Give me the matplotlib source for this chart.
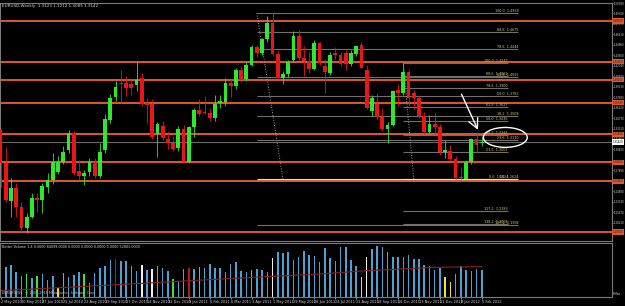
import matplotlib.pyplot as plt
from matplotlib.patches import Ellipse

# EURUSD weekly candles, week of 2 May 2010 .. week of 5 Feb 2012
opens = [1.3304, 1.2846, 1.2319, 1.2500, 1.2243, 1.1940, 1.2098, 1.2361, 1.2333, 1.2514,
         1.2610, 1.2721, 1.2860, 1.3027, 1.3262, 1.2735, 1.2666, 1.2721, 1.2860, 1.2666,
         1.3027, 1.3456, 1.3775, 1.3969, 1.3969, 1.3955, 1.3941, 1.4038, 1.3692, 1.3678,
         1.3248, 1.3359, 1.3179, 1.3123, 1.3054, 1.3331, 1.2860, 1.3345, 1.3595, 1.3560,
         1.3553, 1.3484, 1.3692, 1.3706, 1.3969, 1.3927, 1.4149, 1.4024, 1.4218, 1.4468,
         1.4385, 1.4579, 1.4800, 1.4371, 1.4038, 1.4093, 1.4288, 1.4620, 1.4315, 1.4274,
         1.4163, 1.4523, 1.4204, 1.4107, 1.4385, 1.4357, 1.4385, 1.4232, 1.4371, 1.4495,
         1.4149, 1.3581, 1.3678, 1.3498, 1.3331, 1.3373, 1.3872, 1.3830, 1.4121, 1.3830,
         1.3761, 1.3511, 1.3276, 1.3387, 1.3345, 1.2999, 1.3013, 1.2902, 1.2650, 1.2630,
         1.2860, 1.3179, 1.3123]
highs = [1.3330, 1.3068, 1.2638, 1.2569, 1.2306, 1.2150, 1.2431, 1.2431, 1.2569, 1.2707,
         1.2985, 1.2950, 1.3082, 1.3304, 1.3290, 1.2888, 1.2749, 1.2915, 1.2915, 1.3123,
         1.3539, 1.3816, 1.3997, 1.4149, 1.4066, 1.4040, 1.4260, 1.4100, 1.3761, 1.3740,
         1.3420, 1.3430, 1.3300, 1.3220, 1.3360, 1.3380, 1.3360, 1.3620, 1.3740, 1.3780,
         1.3620, 1.3800, 1.3800, 1.4030, 1.4024, 1.4170, 1.4204, 1.4260, 1.4495, 1.4500,
         1.4590, 1.4897, 1.4939, 1.4420, 1.4130, 1.4290, 1.4690, 1.4700, 1.4482, 1.4400,
         1.4560, 1.4540, 1.4301, 1.4400, 1.4470, 1.4400, 1.4420, 1.4420, 1.4495, 1.4540,
         1.4220, 1.3800, 1.3830, 1.3620, 1.3420, 1.3870, 1.3950, 1.4247, 1.4150, 1.3870,
         1.3800, 1.3560, 1.3520, 1.3540, 1.3400, 1.3165, 1.3100, 1.2950, 1.2800, 1.2880,
         1.3200, 1.3276, 1.3212]
lows = [1.2520, 1.2306, 1.2098, 1.2098, 1.1890, 1.1876, 1.2080, 1.2167, 1.2150, 1.2431,
        1.2560, 1.2700, 1.2830, 1.2990, 1.2690, 1.2610, 1.2541, 1.2666, 1.2640, 1.2638,
        1.2990, 1.3414, 1.3719, 1.3692, 1.3789, 1.3800, 1.3858, 1.3640, 1.3414, 1.3180,
        1.2929, 1.3170, 1.3040, 1.3020, 1.3020, 1.2860, 1.2850, 1.3207, 1.3510, 1.3530,
        1.3440, 1.3430, 1.3620, 1.3650, 1.3775, 1.3880, 1.3980, 1.3990, 1.4200, 1.4330,
        1.4350, 1.4540, 1.4340, 1.4000, 1.3955, 1.4050, 1.4260, 1.4290, 1.4066, 1.4110,
        1.4140, 1.4220, 1.3830, 1.4080, 1.4300, 1.4200, 1.4150, 1.4200, 1.4340, 1.4170,
        1.3600, 1.3500, 1.3450, 1.3300, 1.3123, 1.3360, 1.3650, 1.3800, 1.3650, 1.3600,
        1.3480, 1.3250, 1.3260, 1.3260, 1.2960, 1.2915, 1.2880, 1.2630, 1.2624, 1.2624,
        1.2840, 1.2985, 1.3085]
closes = [1.2846, 1.2333, 1.2500, 1.2243, 1.1940, 1.2098, 1.2361, 1.2333, 1.2528, 1.2610,
          1.2860, 1.2860, 1.2999, 1.3262, 1.2707, 1.2666, 1.2707, 1.2860, 1.2666, 1.2999,
          1.3470, 1.3761, 1.3913, 1.3955, 1.3899, 1.3899, 1.4010, 1.3678, 1.3664, 1.3207,
          1.3387, 1.3193, 1.3123, 1.3040, 1.3331, 1.2860, 1.3345, 1.3595, 1.3539, 1.3553,
          1.3484, 1.3678, 1.3719, 1.3969, 1.3927, 1.4149, 1.4010, 1.4218, 1.4468, 1.4385,
          1.4579, 1.4800, 1.4371, 1.4038, 1.4093, 1.4260, 1.4620, 1.4315, 1.4274, 1.4163,
          1.4523, 1.4246, 1.4121, 1.4357, 1.4357, 1.4232, 1.4232, 1.4385, 1.4482, 1.4177,
          1.3622, 1.3761, 1.3498, 1.3331, 1.3373, 1.3858, 1.3830, 1.4121, 1.3761, 1.3761,
          1.3511, 1.3276, 1.3387, 1.3345, 1.2999, 1.3027, 1.2902, 1.2638, 1.2638, 1.2860,
          1.3179, 1.3096, 1.3142]

# Better Volume: tick volume and bar type (n normal, w climax down, r climax up, g churn, y low)
volumes = [42000, 45500, 48000, 38000, 31500, 34500, 28500, 32000, 34000, 25500,
           31500, 13000, 35500, 30500, 33000, 37000, 34000, 21500, 35500, 43000,
           46500, 55500, 57000, 54500, 54500, 46500, 39500, 48000, 40500, 42000,
           47000, 43000, 39000, 26500, 23000, 41500, 44000, 41500, 45500, 43000,
           49500, 43000, 43000, 37000, 49000, 52000, 39000, 37000, 40500, 41500,
           40500, 37000, 58000, 67000, 65500, 67000, 55500, 60500, 69000, 63000,
           61500, 52000, 73000, 58000, 54000, 74500, 74500, 55500, 47000, 30500,
           59500, 72000, 76500, 74500, 67000, 59500, 59500, 60500, 63000, 57000,
           57000, 48000, 47000, 40500, 43000, 30500, 23000, 34000, 47000, 40500,
           39000, 42000, 40500]
vol_kind = ['w', 'n', 'n', 'n', 'n', 'g', 'n', 'g', 'n', 'n',
            'n', 'y', 'g', 'n', 'n', 'n', 'g', 'n', 'n', 'n',
            'n', 'n', 'r', 'n', 'n', 'n', 'n', 'w', 'n', 'w',
            'n', 'n', 'n', 'g', 'n', 'n', 'r', 'n', 'g', 'n',
            'n', 'n', 'n', 'n', 'n', 'n', 'n', 'n', 'g', 'n',
            'n', 'n', 'w', 'n', 'n', 'n', 'n', 'n', 'n', 'n',
            'n', 'n', 'n', 'n', 'n', 'n', 'n', 'n', 'n', 'y',
            'w', 'n', 'n', 'n', 'n', 'n', 'n', 'n', 'n', 'n',
            'n', 'n', 'n', 'n', 'n', 'y', 'y', 'n', 'n', 'n',
            'n', 'n', 'n']

# volume average line (read at a few bars)
ma_bars = [0, 20, 41, 57, 61, 70, 83, 92]
ma_values = [9500, 17500, 26500, 33000, 34500, 39500, 44500, 45500]

date_labels = ['2 May 2010', '30 May 2010', '27 Jun 2010', '25 Jul 2010', '22 Aug 2010',
               '19 Sep 2010', '17 Oct 2010', '14 Nov 2010', '12 Dec 2010', '9 Jan 2011',
               '6 Feb 2011', '6 Mar 2011', '3 Apr 2011', '1 May 2011', '29 May 2011',
               '26 Jun 2011', '24 Jul 2011', '21 Aug 2011', '18 Sep 2011', '16 Oct 2011',
               '13 Nov 2011', '11 Dec 2011', '8 Jan 2012', '5 Feb 2012']

price_ticks = [1.5078, 1.4932, 1.4787, 1.4641, 1.4496, 1.4350, 1.4204, 1.4059, 1.3913,
               1.3768, 1.3622, 1.3477, 1.3331, 1.3186, 1.3040, 1.2895, 1.2749, 1.2604,
               1.2458, 1.2313, 1.2167, 1.2021, 1.1876]

# horizontal support / resistance lines
sr_levels = [1.4828, 1.4260, 1.4010, 1.3692, 1.3248, 1.2860, 1.2596, 1.1890]

# two fibonacci retracements: (bar, price) anchors
fib_ratios = [1.0, 0.886, 0.786, 0.618, 0.5, 0.382, 0.236, 0.0, -0.272]
fib_names = ['100.0', '88.6', '78.6', '61.8', '50.0', '38.2', '23.6', '0.0', '127.2']
fib_b_ratios = [1.0, 0.886, 0.786, 0.618, 0.5, 0.382, 0.236, 0.0, -0.272, -0.382]
fib_b_names = ['100.0', '88.6', '78.6', '61.8', '50.0', '38.2', '23.6', '0.0', '127.2', '138.2']
fib_a = (49, 1.4939, 54, 1.2624, 99)   # start bar, high, end bar, low, right end
fib_b = (77, 1.4247, 79, 1.2624, 97)

W, H = 625, 306
fig = plt.figure(figsize=(W / 100, H / 100), dpi=100, facecolor='black')


def px_axes(x0, y0, x1, y1):
    return fig.add_axes([x0 / W, 1 - y1 / H, (x1 - x0) / W, (y1 - y0) / H])


ax = px_axes(0, 3, 612, 241)
axv = px_axes(0, 243, 612, 297)
xs = list(range(len(opens)))
xlim = (-0.1, 116.9)
grey = '#7a7a7a'
txt = '#d4d4d4'

for a in (ax, axv):
    a.set_facecolor('black')
    a.set_xlim(*xlim)
    for s in a.spines.values():
        s.set_color(grey)
        s.set_linewidth(0.8)

# ---- price panel ----
ax.set_ylim(1.17651, 1.50637)

for lvl in sr_levels:
    ax.axhline(lvl, color='#e0582e', lw=1.4, zorder=1)
ax.axhline(closes[-1], color='#6a6a6a', lw=0.8, zorder=1)

for (x0, hi, x1, lo, xr), ratios, names in ((fib_a, fib_ratios, fib_names),
                                             (fib_b, fib_b_ratios, fib_b_names)):
    ax.plot([x0, x1], [hi, lo], ls=':', color='#a0a0a0', lw=0.7, zorder=2)
    for r, name in zip(ratios, names):
        p = lo + r * (hi - lo)
        col = '#dcdcdc' if r == 0 else '#707070'
        ax.hlines(p, x0, xr, color=col, lw=0.8, zorder=2)
        ax.text(xr, p, f'{name}  {p:.4f}', fontsize=2.4, color='#d2c878',
                ha='right', va='bottom', zorder=3)

up = [c >= o for o, c in zip(opens, closes)]
ccol = ['#2ee82e' if u else '#e81616' for u in up]
ax.vlines(xs, lows, highs, colors=ccol, lw=0.6, zorder=4)
ax.bar(xs, [max(abs(c - o), 0.0007) for o, c in zip(opens, closes)],
       bottom=[min(o, c) for o, c in zip(opens, closes)],
       width=0.72, color=ccol, linewidth=0, zorder=5)

# annotation drawn on the chart
ax.add_patch(Ellipse((96.5, 1.3207), 8.4, 0.0277, fill=False, ec='white', lw=1.0, zorder=6))
ax.annotate('', xy=(91.5, 1.3276), xytext=(87.9, 1.3844),
            arrowprops=dict(arrowstyle='->,head_length=0.7,head_width=0.35',
                            color='white', lw=1.0), zorder=6)

# price scale: labels hidden where a line label box sits on top
marked = sr_levels + [closes[-1]]
shown = [t for t in price_ticks if min(abs(t - m) for m in marked) > 0.004]
ax.yaxis.tick_right()
ax.set_yticks(shown)
ax.set_yticklabels([f'{t:.5f}' for t in shown])
ax.tick_params(axis='y', labelsize=1.9, colors=txt, length=0.8, pad=0.3, width=0.5)
ax.set_xticks([])
yt = ax.get_yaxis_transform()
for lvl in sr_levels:
    ax.text(1.0012, lvl, f'{lvl:.5f}', transform=yt, fontsize=1.9, color='#202020',
            va='center', ha='left', clip_on=False,
            bbox=dict(boxstyle='square,pad=0.25', fc='#e0582e', ec='none'))
ax.text(1.0012, closes[-1], f'{closes[-1]:.5f}', transform=yt, fontsize=1.9, color='black',
        va='center', ha='left', clip_on=False,
        bbox=dict(boxstyle='square,pad=0.25', fc='white', ec='none'))

ax.text(0.003, 0.995, 'EURUSD,Weekly  %.4f %.4f %.4f %.4f' % (opens[-1], highs[-1], lows[-1], closes[-1]),
        transform=ax.transAxes, fontsize=3.0, color=txt, va='top', ha='left')

# ---- volume panel ----
kind_col = {'n': '#4ea2d2', 'w': '#f0f0f0', 'r': '#b01c1c', 'g': '#3ee03e', 'y': '#f0e040'}
axv.bar(xs, volumes, width=0.3, color=[kind_col[k] for k in vol_kind], linewidth=0)
axv.plot(ma_bars, ma_values, color='#8c1e1e', lw=0.8)
axv.set_ylim(0, 81000)
axv.set_yticks([])
axv.text(0.003, 0.97, 'Better Volume 1.4 0.0000 84099.0000 0.0000 0.0000 0.0000 0.0000 52883.0000',
         transform=axv.transAxes, fontsize=2.4, color=txt, va='top', ha='left')
axv.text(0.003, 0.03, 'EURUSD,W1  \u00a9 2001-2011 MetaQuotes Software Corp.',
         transform=axv.transAxes, fontsize=2.4, color='#bbbbbb', va='bottom', ha='left')
axv.text(1.002, 0.02, 'InMax', transform=axv.transAxes, fontsize=2.0, color=txt,
         va='bottom', ha='left')

axv.set_xticks(list(range(0, len(opens), 4)))
axv.set_xticklabels(date_labels, ha='left')
axv.tick_params(axis='x', labelsize=2.5, colors=txt, length=1.2, pad=0.8, width=0.5)

fig.savefig('out.png', dpi=100, facecolor='black')
